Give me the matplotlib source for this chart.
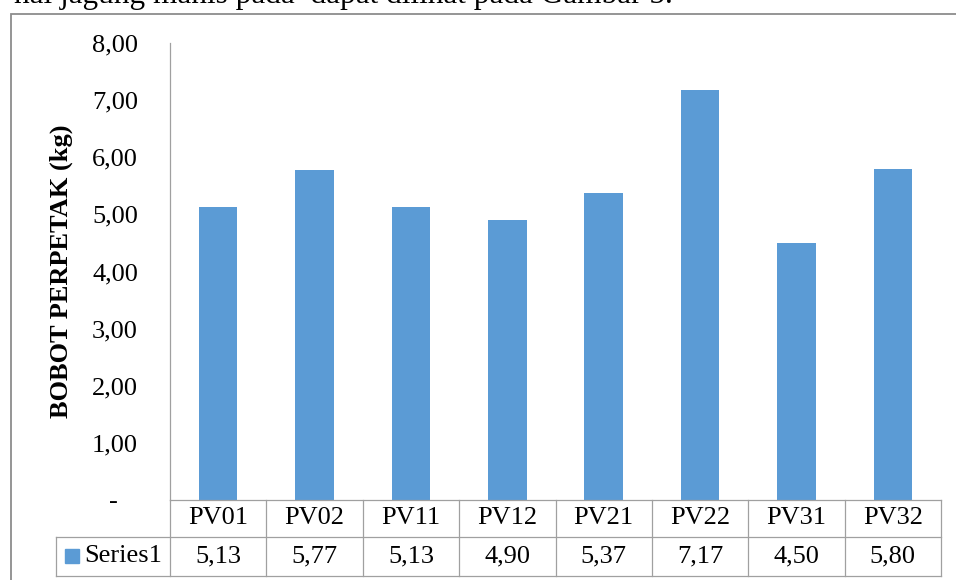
import matplotlib
matplotlib.use('Agg')
import matplotlib.pyplot as plt
import matplotlib.transforms as mtransforms
from matplotlib.patches import Rectangle
from matplotlib.ticker import FuncFormatter

# --- datos ---
categorias = ['PV01', 'PV02', 'PV11', 'PV12', 'PV21', 'PV22', 'PV31', 'PV32']
bobot = [5.13, 5.77, 5.13, 4.90, 5.37, 7.17, 4.50, 5.80]
nama_seri = 'Series1'
y_ticks = [0, 1, 2, 3, 4, 5, 6, 7, 8]

plt.rcParams['font.family'] = ['Liberation Serif', 'DejaVu Serif']

W, H = 956, 580
AZUL = '#5B9BD5'
GRIS = '#a0a0a0'
FS = 19

fig = plt.figure(figsize=(W / 100, H / 100), dpi=100)

def fx(px):
    return px / W

def fy(px):
    # px medido desde arriba
    return (H - px) / H

# marco del grafico (cortado a la derecha y abajo)
fig.patches.append(Rectangle((fx(11), -0.5), 2, fy(14) + 0.5, fill=False,
                             edgecolor='#8c8c8c', lw=1.3, transform=fig.transFigure))

# texto del documento cortado arriba
fig.text(fx(14), fy(3.5), 'hal jagung manis pada  dapat dilihat pada Gambar 5.',
         fontsize=22.5, va='baseline', ha='left')

ax = fig.add_axes([fx(170), fy(500), fx(941) - fx(170), fy(43) - fy(500)])
x = list(range(len(categorias)))
ax.bar(x, bobot, width=0.4, color=AZUL)
ax.set_xlim(-0.5, len(categorias) - 0.5)
ax.set_ylim(0, 8)
ax.set_yticks(y_ticks)

def fmt(v, pos):
    if v == 0:
        return '-   '
    return f'{v:.2f}'.replace('.', ',')

ax.yaxis.set_major_formatter(FuncFormatter(fmt))
ax.tick_params(axis='y', length=0, pad=23, labelsize=FS)
ax.set_xticks([])
for s in ['top', 'right', 'bottom']:
    ax.spines[s].set_visible(False)
ax.spines['left'].set_color(GRIS)
ax.spines['left'].set_linewidth(0.9)

fig.text(fx(61), fy(271), 'BOBOT PERPETAK (kg)', rotation=90, fontsize=FS,
         fontweight='bold', ha='center', va='center')

# --- tabla de datos ---
trans = mtransforms.blended_transform_factory(ax.transData, ax.transAxes)
alto = fy(43) - fy(500)
h1 = (37 / H) / alto
h2 = (76 / H) / alto
ancho_cat = (fx(941) - fx(170)) / len(categorias)
x_izq = -0.5 - (fx(170) - fx(56)) / ancho_cat
x_der = len(categorias) - 0.5

kw = dict(color=GRIS, lw=0.9, transform=trans, clip_on=False)
ax.plot([-0.5, x_der], [0, 0], **kw)
ax.plot([x_izq, x_der], [-h1, -h1], **kw)
ax.plot([x_izq, x_der], [-h2, -h2], **kw)
for i in range(len(categorias) + 1):
    ax.plot([i - 0.5, i - 0.5], [0, -h2], **kw)
ax.plot([x_izq, x_izq], [-h1, -h2], **kw)

for i, (c, v) in enumerate(zip(categorias, bobot)):
    ax.text(i, -h1 / 2, c, transform=trans, ha='center', va='center', fontsize=FS)
    ax.text(i, -(h1 + h2) / 2, f'{v:.2f}'.replace('.', ','), transform=trans,
            ha='center', va='center', fontsize=FS)

fig.patches.append(Rectangle((fx(65), fy(563)), fx(14), 14 / H, color=AZUL,
                             transform=fig.transFigure))
fig.text(fx(84), fy(556), nama_seri, ha='left', va='center', fontsize=FS)

fig.savefig('out.png', dpi=100)
